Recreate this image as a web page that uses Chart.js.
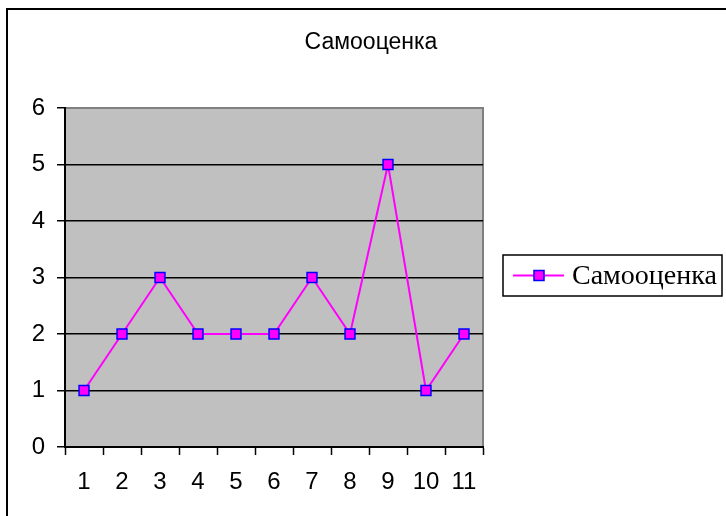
<!DOCTYPE html>
<html lang="ru">
<head>
  <meta charset="UTF-8">
  <title>Самооценка</title>
  <style>
    html, body {
      margin: 0;
      padding: 0;
      background: #fff;
      overflow: hidden;
    }
    .wrap {
      position: relative;
      width: 726px;
      height: 516px;
    }
    .frame {
      position: absolute;
      left: 6px;
      top: 8px;
      width: 900px;
      height: 700px;
      border: 2px solid #000;
    }
    #chart {
      position: absolute;
      left: 0;
      top: 0;
    }
  </style>
  <script src="https://cdn.jsdelivr.net/npm/chart.js"></script>
</head>
<body>
  <div class="wrap">
    <div class="frame"></div>
    <canvas id="chart" width="726" height="516"></canvas>
  </div>

  <script>
    // data
    const chartTitle = 'Самооценка';
    const seriesName = 'Самооценка';
    const categories = ['1', '2', '3', '4', '5', '6', '7', '8', '9', '10', '11'];
    const values = [1, 2, 3, 2, 2, 2, 3, 2, 5, 1, 2];
    const yMin = 0;
    const yMax = 6;
    const yStep = 1;

    const lineColor = '#ff00ff';
    const markerBorder = '#0000ff';
    const sans = 'Arial, "Liberation Sans", sans-serif';

    // grey plot background with the darker edge on top and right
    const plotBackground = {
      id: 'plotBackground',
      beforeDraw(chart) {
        const { ctx, chartArea: a } = chart;
        ctx.save();
        ctx.fillStyle = '#c0c0c0';
        ctx.fillRect(a.left, a.top, a.right - a.left, a.bottom - a.top);
        ctx.strokeStyle = '#808080';
        ctx.lineWidth = 2;
        ctx.beginPath();
        ctx.moveTo(a.left, a.top);
        ctx.lineTo(a.right, a.top);
        ctx.lineTo(a.right, a.bottom);
        ctx.stroke();
        ctx.restore();
      }
    };

    // title centred on the whole picture, not on the plot
    const pageTitle = {
      id: 'pageTitle',
      afterDraw(chart) {
        const ctx = chart.ctx;
        ctx.save();
        ctx.fillStyle = '#000';
        ctx.font = '23px ' + sans;
        ctx.textAlign = 'center';
        ctx.textBaseline = 'middle';
        ctx.fillText(chartTitle, 371, 43);
        ctx.restore();
      }
    };

    // boxed legend on the right, line + marker sample like Excel
    const boxLegend = {
      id: 'boxLegend',
      afterDraw(chart) {
        const ctx = chart.ctx;
        const ds = chart.data.datasets[0];
        const x = 503, y = 255, w = 219, h = 41;
        const cy = y + h / 2;
        ctx.save();
        ctx.fillStyle = '#fff';
        ctx.fillRect(x, y, w, h);
        ctx.strokeStyle = '#000';
        ctx.lineWidth = 1.5;
        ctx.strokeRect(x, y, w, h);

        ctx.strokeStyle = ds.borderColor;
        ctx.lineWidth = ds.borderWidth;
        ctx.beginPath();
        ctx.moveTo(x + 10, cy);
        ctx.lineTo(x + 61, cy);
        ctx.stroke();

        ctx.fillStyle = ds.pointBackgroundColor;
        ctx.strokeStyle = ds.pointBorderColor;
        ctx.lineWidth = ds.pointBorderWidth;
        ctx.fillRect(x + 31, cy - 5, 10, 10);
        ctx.strokeRect(x + 31, cy - 5, 10, 10);

        ctx.fillStyle = '#000';
        ctx.font = '28px "Liberation Serif", "Times New Roman", serif';
        ctx.textBaseline = 'middle';
        ctx.fillText(ds.label, x + 69, cy + 1);
        ctx.restore();
      }
    };

    const ctx = document.getElementById('chart').getContext('2d');

    new Chart(ctx, {
      type: 'line',
      data: {
        labels: categories,
        datasets: [{
          label: seriesName,
          data: values,
          borderColor: lineColor,
          borderWidth: 2,
          tension: 0,
          pointStyle: 'rect',
          pointRadius: 7,
          pointHoverRadius: 7,
          pointBackgroundColor: lineColor,
          pointBorderColor: markerBorder,
          pointBorderWidth: 1.5
        }]
      },
      options: {
        responsive: false,
        animation: false,
        events: [],
        layout: {
          padding: { left: 0, right: 243, top: 108, bottom: 0 }
        },
        plugins: {
          legend: { display: false },
          tooltip: { enabled: false },
          title: { display: false }
        },
        scales: {
          x: {
            offset: true,
            afterFit(scale) { scale.height = 69; },
            grid: {
              offset: true,
              drawOnChartArea: false,
              drawTicks: true,
              tickLength: 8,
              tickColor: '#000',
              tickWidth: 1.5
            },
            border: { display: true, color: '#000', width: 2 },
            ticks: {
              color: '#000',
              padding: 13,
              maxRotation: 0,
              autoSkip: false,
              font: { family: sans, size: 24 }
            }
          },
          y: {
            min: yMin,
            max: yMax,
            afterFit(scale) { scale.width = 65; },
            grid: {
              color: c => (c.tick && c.tick.value === yMax) ? 'rgba(0,0,0,0)' : '#000',
              lineWidth: 1.5,
              drawTicks: true,
              tickLength: 8,
              tickColor: '#000',
              tickWidth: 1.5
            },
            border: { display: true, color: '#000', width: 2 },
            ticks: {
              stepSize: yStep,
              color: '#000',
              padding: 12,
              font: { family: sans, size: 24 }
            }
          }
        }
      },
      plugins: [plotBackground, pageTitle, boxLegend]
    });
  </script>
</body>
</html>
